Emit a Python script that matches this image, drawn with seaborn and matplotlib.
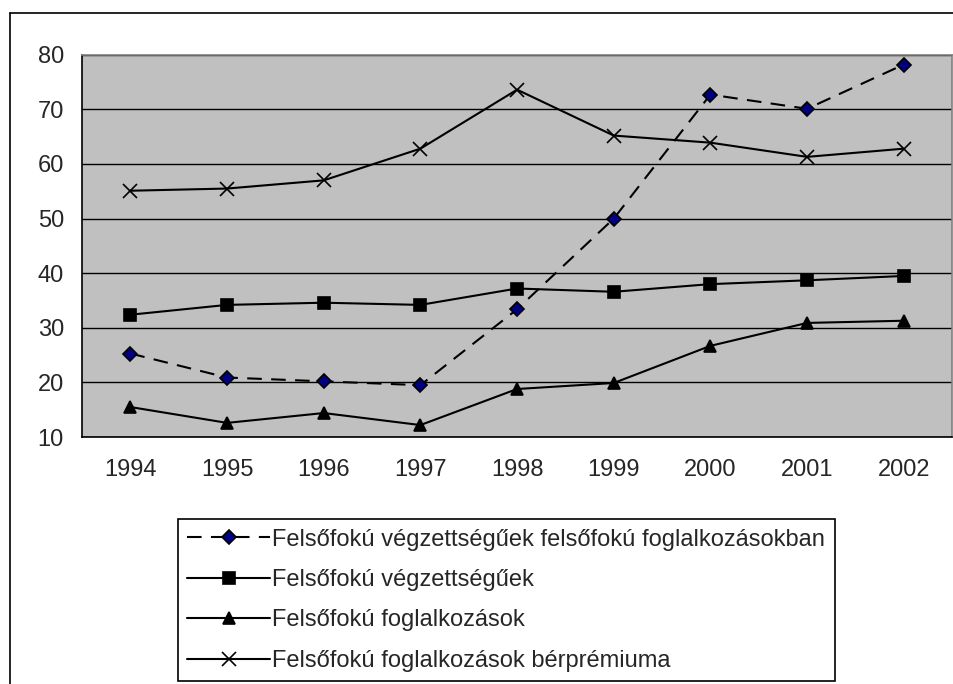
import pandas as pd
import matplotlib.pyplot as plt
import seaborn as sns
from matplotlib.lines import Line2D

# Data
years = ["1994", "1995", "1996", "1997", "1998", "1999", "2000", "2001", "2002"]
s_ff_vegz_ff_fogl = [25.3, 20.9, 20.2, 19.5, 33.4, 50.0, 72.7, 70.1, 78.2]
s_ff_vegz = [32.4, 34.2, 34.6, 34.2, 37.2, 36.6, 38.0, 38.7, 39.5]
s_ff_fogl = [15.5, 12.6, 14.4, 12.2, 18.8, 19.9, 26.7, 30.9, 31.3]
s_ff_fogl_berpr = [55.1, 55.5, 57.0, 62.8, 73.6, 65.2, 63.9, 61.3, 62.8]

labels = [
    "Felsőfokú végzettségűek felsőfokú foglalkozásokban",
    "Felsőfokú végzettségűek",
    "Felsőfokú foglalkozások",
    "Felsőfokú foglalkozások bérprémiuma",
]

rows = []
for name, vals in zip(labels, [s_ff_vegz_ff_fogl, s_ff_vegz, s_ff_fogl, s_ff_fogl_berpr]):
    for i, v in enumerate(vals):
        rows.append({"pos": i, "year": years[i], "value": v, "series": name})
df = pd.DataFrame(rows)

sns.set_style("white")
plt.rcParams["font.family"] = ["Liberation Sans", "DejaVu Sans"]

fig = plt.figure(figsize=(9.54, 6.84), dpi=100)
ax = fig.add_axes([0.086, 0.361, 0.912, 0.559])
ax.set_facecolor("#C0C0C0")

styles = {
    labels[0]: dict(marker="D", ls=(0, (7, 4.5)), mfc="#000080", mec="black", ms=7.5),
    labels[1]: dict(marker="s", ls="-", mfc="black", mec="black", ms=8),
    labels[2]: dict(marker="^", ls="-", mfc="black", mec="black", ms=9),
    labels[3]: dict(marker="x", ls="-", mfc="black", mec="black", ms=10),
}

for name in labels:
    st = styles[name]
    sub = df[df["series"] == name]
    sns.lineplot(data=sub, x="pos", y="value", ax=ax, color="black", lw=1.5,
                 linestyle=st["ls"], marker=st["marker"], markersize=st["ms"],
                 markerfacecolor=st["mfc"], markeredgecolor=st["mec"],
                 markeredgewidth=1.2, label=name, legend=False)

ax.set_xlim(-0.5, len(years) - 0.5)
ax.set_ylim(10, 80)
ax.set_yticks(range(10, 81, 10))
ax.set_xticks(range(len(years)))
ax.set_xticklabels(years)
ax.set_xticks([i - 0.5 for i in range(len(years) + 1)], minor=True)
ax.tick_params(axis="x", which="major", length=0, pad=16, labelsize=17)
ax.tick_params(axis="x", which="minor", length=7, width=1, color="black", direction="out")
ax.tick_params(axis="y", length=7, width=1, color="black", direction="out", labelsize=17, pad=6)
ax.yaxis.grid(True, color="black", lw=1)
ax.set_axisbelow(True)
ax.set_xlabel("")
ax.set_ylabel("")

for side in ["top", "right"]:
    ax.spines[side].set_color("#808080")
    ax.spines[side].set_linewidth(1.2)
for side in ["left", "bottom"]:
    ax.spines[side].set_color("black")
    ax.spines[side].set_linewidth(1.2)

# outer chart frame (top and left visible)
fig.add_artist(Line2D([10 / 954, 1.0], [1 - 13 / 684, 1 - 13 / 684], color="black", lw=1.2))
fig.add_artist(Line2D([10 / 954, 10 / 954], [0, 1 - 13 / 684], color="black", lw=1.2))

handles, hl = ax.get_legend_handles_labels()
leg = fig.legend(handles, hl, loc="upper left", bbox_to_anchor=(0.1866, 0.241),
                 fontsize=17, frameon=True, fancybox=False, edgecolor="black",
                 framealpha=1, handlelength=3.5, handletextpad=0.1,
                 labelspacing=0.78, borderpad=0.4, borderaxespad=0)
leg.get_frame().set_linewidth(1.2)

plt.savefig("out.png", dpi=100)
